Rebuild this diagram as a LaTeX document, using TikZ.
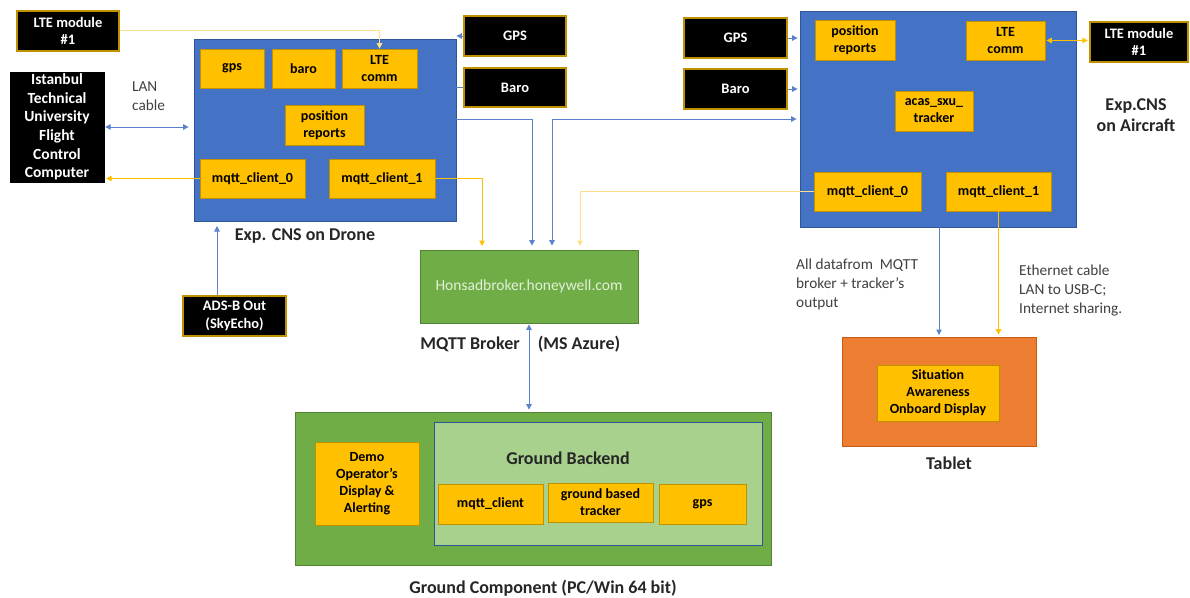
\documentclass[tikz,border=0pt]{standalone}
\usepackage{fontspec}
\setmainfont{Carlito}
\usetikzlibrary{arrows.meta,calc}
\definecolor{cblue}{HTML}{4472C4}
\definecolor{cbluedk}{HTML}{2F5597}
\definecolor{cline}{HTML}{5B82CC}
\definecolor{cyel}{HTML}{FFC000}
\definecolor{cyelpale}{HTML}{FFE08A}
\definecolor{cgold}{HTML}{BF9000}
\definecolor{cgreen}{HTML}{70AD47}
\definecolor{cgreendk}{HTML}{548235}
\definecolor{clgreen}{HTML}{A9D18E}
\definecolor{corange}{HTML}{ED7D31}
\definecolor{corangedk}{HTML}{C55A11}
\definecolor{ctext}{HTML}{404040}
\definecolor{cbroker}{HTML}{E2F0D9}
\newcommand{\bx}[7]{\node[#6, minimum width={(#4-#2)*1pt}, minimum height={(#5-#3)*1pt}] (#1) at ({(#2+#4)/2},{(#3+#5)/2}) {#7};}
\tikzset{
  x=1pt, y=-1pt,
  >={Triangle[length=5.5pt,width=5.5pt]},
  blk/.style={fill=black, draw=cgold, line width=2.5pt, text=white, align=center, inner sep=1pt,
    font=\bfseries\fontsize{14.5}{17.5}\selectfont},
  blkplain/.style={fill=black, draw=black, text=white, align=center, inner sep=1pt,
    font=\bfseries\fontsize{15.5}{18.6}\selectfont},
  ybox/.style={fill=cyel, draw=cgold, line width=0.6pt, align=center, inner sep=1pt,
    font=\bfseries\fontsize{14}{17}\selectfont},
  bbox/.style={fill=cblue, draw=cbluedk, line width=0.8pt},
  gbox/.style={fill=cgreen, draw=cgreendk, line width=0.8pt},
  lgbox/.style={fill=clgreen, draw=cbluedk, line width=0.8pt},
  obox/.style={fill=corange, draw=corangedk, line width=0.8pt},
  lbl/.style={font=\bfseries\fontsize{18}{21}\selectfont, text=black!85, align=center, inner sep=0pt},
  note/.style={font=\fontsize{15.3}{19}\selectfont, text=ctext, align=left, inner sep=0pt},
  bl/.style={draw=cline, line width=1pt},
  yl/.style={draw=cyel, line width=1pt},
  ylp/.style={draw=cyelpale, line width=1pt},
}
\begin{document}
\begin{tikzpicture}
\useasboundingbox (0,0) rectangle (1190,597);
% ---------- drone side ----------
\bx{lteL}{17}{11}{119}{51}{blk}{LTE module\\\#1}
\bx{itu}{10}{72}{104}{182}{blkplain}{Istanbul\\Technical\\University\\Flight\\Control\\Computer}
\bx{drone}{194}{39}{456}{221}{bbox}{}
\bx{dgps}{200}{49}{264}{88}{ybox}{gps}
\bx{dbaro}{272}{49}{335}{88}{ybox}{baro}
\bx{dlte}{342}{49}{417}{88}{ybox}{LTE\\comm}
\bx{dpos}{285}{105}{364}{145}{ybox}{position\\reports}
\bx{dmq0}{200}{159}{305}{198}{ybox}{mqtt\_client\_0}
\bx{dmq1}{329}{159}{435}{198}{ybox}{mqtt\_client\_1}
\bx{gpsD}{464}{16}{566}{56}{blk}{GPS}
\bx{baroD}{464}{68}{566}{107}{blk}{Baro}
\bx{adsb}{183}{296}{286}{336}{blk}{ADS-B Out\\(SkyEcho)}
\node[note] (lan) at (132,96) [anchor=west] {LAN\\cable};
\node[lbl] (dlbl) at (305,236) {Exp. CNS on Drone};
% ---------- broker ----------
\bx{broker}{420}{250}{638}{323}{gbox}{}
\node[font=\fontsize{15.5}{18}\selectfont, text=cbroker] (burl) at (broker.center) {Honsadbroker.honeywell.com};
\node[lbl] (blbl1) at (470,344) {MQTT Broker};
\node[lbl] (blbl2) at (579,344) {(MS Azure)};
% ---------- ground ----------
\bx{ground}{295}{412}{771}{565}{gbox}{}
\bx{gback}{434}{422}{762}{545}{lgbox}{}
\node[lbl] (gblbl) at (568,458) {Ground Backend};
\bx{demo}{315}{442}{419}{525}{ybox}{Demo\\Operator's\\Display \&\\Alerting}
\bx{gmq}{438}{484}{543}{524}{ybox}{mqtt\_client}
\bx{gtrk}{548}{483}{653}{522}{ybox}{ground based\\tracker}
\bx{ggps}{659}{484}{746}{524}{ybox}{gps}
\node[lbl] (glbl) at (543,588) {Ground Component (PC/Win 64 bit)};
% ---------- aircraft side ----------
\bx{air}{800}{11}{1076}{227}{bbox}{}
\bx{apos}{815}{20}{895}{60}{ybox}{position\\reports}
\bx{alte}{966}{21}{1045}{60}{ybox}{LTE\\comm}
\bx{atrk}{895}{91}{973}{131}{ybox}{acas\_sxu\_\\tracker}
\bx{amq0}{814}{172}{921}{211}{ybox}{mqtt\_client\_0}
\bx{amq1}{946}{172}{1051}{211}{ybox}{mqtt\_client\_1}
\bx{gpsA}{684}{18}{787}{58}{blk}{GPS}
\bx{baroA}{684}{69}{787}{109}{blk}{Baro}
\bx{lteR}{1090}{22}{1188}{62}{blk}{LTE module\\\#1}
\node[lbl] (albl) at (1136,115) {Exp.CNS\\on Aircraft};
% ---------- tablet ----------
\bx{tablet}{842}{337}{1036}{446}{obox}{}
\bx{sa}{877}{365}{999}{421}{ybox}{Situation\\Awareness\\Onboard Display}
\node[lbl] (tlbl) at (949,463) {Tablet};
\node[note, anchor=west] (n1) at (796,284) {All datafrom\ \ MQTT\\broker + tracker’s\\output};
\node[note, anchor=west] (n2) at (1019,290) {Ethernet cable\\LAN to USB-C;\\Internet sharing.};
% ---------- junction coordinates ----------
\coordinate (j1) at (532,119);
\coordinate (j2) at (552,119);
\coordinate (j3) at (482,250);
\coordinate (j4) at (580,250);
\coordinate (j5) at (217,222);
\coordinate (j6) at (939,337);
% ---------- connectors ----------
\draw[ylp,->] (lteL.east |- 0,30) -| (dlte.north);
\draw[bl,<->, shorten <=1pt, shorten >=5pt] (itu.east) -- (itu.east -| drone.west);
\draw[yl,->, shorten >=2pt] (dmq0.west) -- (dmq0.west -| itu.east);
\draw[bl,->, shorten <=1pt] (gpsD.west) -- (gpsD.west -| drone.east);
\draw[bl] (baroD.west) -- (baroD.west -| drone.east);
\draw[bl,->, shorten >=4pt] (drone.east |- j1) -- (j1) -- (j1 |- broker.north);
\draw[bl,<->, shorten <=3pt, shorten >=4pt] (air.west |- j2) -- (j2) -- (j2 |- broker.north);
\draw[yl,->, shorten >=4pt] (dmq1.east) -| (j3);
\draw[ylp,->, shorten >=4pt] (amq0.west) -| (j4);
\draw[bl,->, shorten >=4pt] (adsb.north -| j5) -- (j5);
\draw[bl,<->, shorten <=1pt, shorten >=2pt] (broker.south) -- (broker.south |- ground.north);
\draw[bl,->, shorten >=2pt] (gpsA.east) -- (gpsA.east -| air.west);
\draw[bl,->, shorten >=2pt] (baroA.east) -- (baroA.east -| air.west);
\draw[yl,<->, shorten <=1pt, shorten >=1pt] (alte.east) -- (alte.east -| lteR.west);
\draw[bl,->, shorten >=2pt] (air.south -| j6) -- (j6);
\draw[yl,->, shorten >=2pt] (amq1.south) -- (amq1.south |- tablet.north);
\end{tikzpicture}
\end{document}
